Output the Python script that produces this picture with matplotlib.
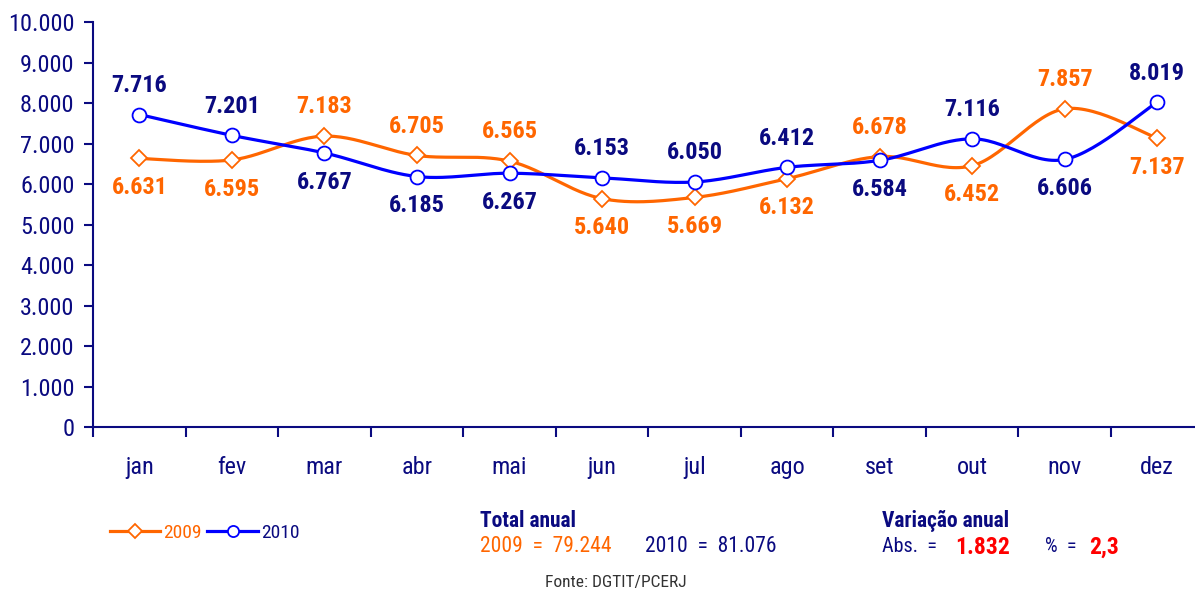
import numpy as np
import matplotlib
matplotlib.use("Agg")
import matplotlib.pyplot as plt
from matplotlib.ticker import FuncFormatter, FixedLocator
from matplotlib.lines import Line2D
from matplotlib import font_manager

months = ["jan", "fev", "mar", "abr", "mai", "jun", "jul", "ago", "set", "out", "nov", "dez"]
v2009 = [6631, 6595, 7183, 6705, 6565, 5640, 5669, 6132, 6678, 6452, 7857, 7137]
v2010 = [7716, 7201, 6767, 6185, 6267, 6153, 6050, 6412, 6584, 7116, 6606, 8019]
pos2009 = ["b", "b", "a", "a", "a", "b", "b", "b", "a", "b", "a", "b"]
pos2010 = ["a", "a", "b", "b", "b", "a", "a", "a", "b", "a", "b", "a"]
yticks = [0, 1000, 2000, 3000, 4000, 5000, 6000, 7000, 8000, 9000, 10000]
total2009 = "79.244"
total2010 = "81.076"
var_abs = "1.832"
var_pct = "2,3"


def _w(f):
    w = f.weight
    if isinstance(w, str):
        return 700 if "bold" in w.lower() else 400
    return int(w)


entries = font_manager.fontManager.ttflist
FONT = "Liberation Sans"
SC = 0.82
for cand in ["Liberation Sans Narrow", "Arial Narrow", "Roboto Condensed", "PT Sans Narrow",
             "Archivo Narrow", "Fira Sans Condensed", "IBM Plex Sans Condensed", "Asap Condensed"]:
    ws = [_w(f) for f in entries if f.name == cand]
    if ws and any(w >= 600 for w in ws) and any(w <= 450 for w in ws):
        FONT = cand
        SC = 1.0
        break
plt.rcParams["font.family"] = [FONT, "DejaVu Sans"]

ORANGE = "#FF6600"
BLUE = "#0000FF"
NAVY = "#0A0A80"
RED = "#FF0000"


def fs(v):
    return v * SC


def smooth(x, y, n=30):
    x = np.asarray(x, float)
    y = np.asarray(y, float)
    P = np.column_stack([x, y])
    out = []
    for i in range(len(P) - 1):
        p0 = P[i - 1] if i > 0 else P[i]
        p1 = P[i]
        p2 = P[i + 1]
        p3 = P[i + 2] if i + 2 < len(P) else P[i + 1]
        c1 = p1 + (p2 - p0) / 6.0
        c2 = p2 - (p3 - p1) / 6.0
        t = np.linspace(0, 1, n)[:, None]
        seg = (1 - t) ** 3 * p1 + 3 * (1 - t) ** 2 * t * c1 + 3 * (1 - t) * t ** 2 * c2 + t ** 3 * p2
        out.append(seg if i == 0 else seg[1:])
    s = np.vstack(out)
    return s[:, 0], s[:, 1]


fig = plt.figure(figsize=(11.95, 5.89), dpi=100)
ax = fig.add_axes([0.078, 0.275, 0.929, 0.6876])

x = np.arange(len(months))
sx, sy = smooth(x, v2009)
ax.plot(sx, sy, color=ORANGE, lw=2.3, zorder=2)
ax.plot(x, v2009, ls="none", marker="D", ms=8, mfc="white", mec=ORANGE, mew=1.3, zorder=4)
sx, sy = smooth(x, v2010)
ax.plot(sx, sy, color=BLUE, lw=2.3, zorder=3)
ax.plot(x, v2010, ls="none", marker="o", ms=10, mfc="white", mec=BLUE, mew=1.3, zorder=5)


def fmt(v):
    return f"{v:,}".replace(",", ".")


for xi, v, p in zip(x, v2009, pos2009):
    off = 21 if p == "a" else -21
    ax.annotate(fmt(v), (xi, v), xytext=(0, off), textcoords="offset points",
                ha="center", va="center", color=ORANGE, fontsize=fs(17.5), fontweight="bold")
for xi, v, p in zip(x, v2010, pos2010):
    off = 21 if p == "a" else -21
    ax.annotate(fmt(v), (xi, v), xytext=(0, off), textcoords="offset points",
                ha="center", va="center", color=NAVY, fontsize=fs(17.5), fontweight="bold")

ax.set_xlim(-0.5, 11.5)
ax.set_ylim(0, 10000)
ax.yaxis.set_major_locator(FixedLocator(yticks))
ax.yaxis.set_major_formatter(FuncFormatter(lambda v, p: fmt(int(v))))
ax.xaxis.set_major_locator(FixedLocator(np.arange(-0.5, 12, 1)))
ax.xaxis.set_major_formatter(FuncFormatter(lambda v, p: ""))
for xi, m in zip(x, months):
    ax.text(xi, -1000, m, ha="center", va="center", color=NAVY, fontsize=fs(17.5))

for s in ["top", "right"]:
    ax.spines[s].set_visible(False)
for s in ["left", "bottom"]:
    ax.spines[s].set_color(NAVY)
    ax.spines[s].set_linewidth(1.5)
ax.tick_params(axis="y", colors=NAVY, labelsize=fs(17.5), length=6.5, width=1.5, direction="out", pad=7)
ax.tick_params(axis="x", colors=NAVY, length=7, width=1.5, direction="out")
ax.patch.set_visible(False)

handles = [
    Line2D([0], [0], color=ORANGE, lw=2.3, marker="D", ms=7, mfc="white", mec=ORANGE, mew=1.3),
    Line2D([0], [0], color=BLUE, lw=2.3, marker="o", ms=8, mfc="white", mec=BLUE, mew=1.3),
]
leg = fig.legend(handles, ["2009", "2010"], loc="center left", bbox_to_anchor=(0.077, 0.095),
                 ncol=2, frameon=False, handlelength=2.6, handletextpad=0.15, columnspacing=0.3,
                 fontsize=fs(14))
leg.get_texts()[0].set_color(ORANGE)
leg.get_texts()[1].set_color(NAVY)

yt = 1 - 521 / 589
yv = 1 - 547 / 589
fig.text(480 / 1195, yt, "Total anual", color=NAVY, fontsize=fs(15.5), fontweight="bold", va="center")
fig.text(480 / 1195, yv, "2009  =  " + total2009, color=ORANGE, fontsize=fs(15.5), va="center")
fig.text(645 / 1195, yv, "2010  =  " + total2010, color=NAVY, fontsize=fs(15.5), va="center")
fig.text(882 / 1195, yt, "Variação anual", color=NAVY, fontsize=fs(15.5), fontweight="bold", va="center")
fig.text(882 / 1195, yv, "Abs.  =", color=NAVY, fontsize=fs(14.5), va="center")
fig.text(955 / 1195, yv, var_abs, color=RED, fontsize=fs(17), fontweight="bold", va="center")
fig.text(1045 / 1195, yv, "%  =", color=NAVY, fontsize=fs(14.5), va="center")
fig.text(1089 / 1195, yv, var_pct, color=RED, fontsize=fs(17), fontweight="bold", va="center")
fig.text(616 / 1195, 1 - 582 / 589, "Fonte: DGTIT/PCERJ", color="#333333", fontsize=fs(12.5), va="center", ha="center")

fig.savefig("out.png", dpi=100)
